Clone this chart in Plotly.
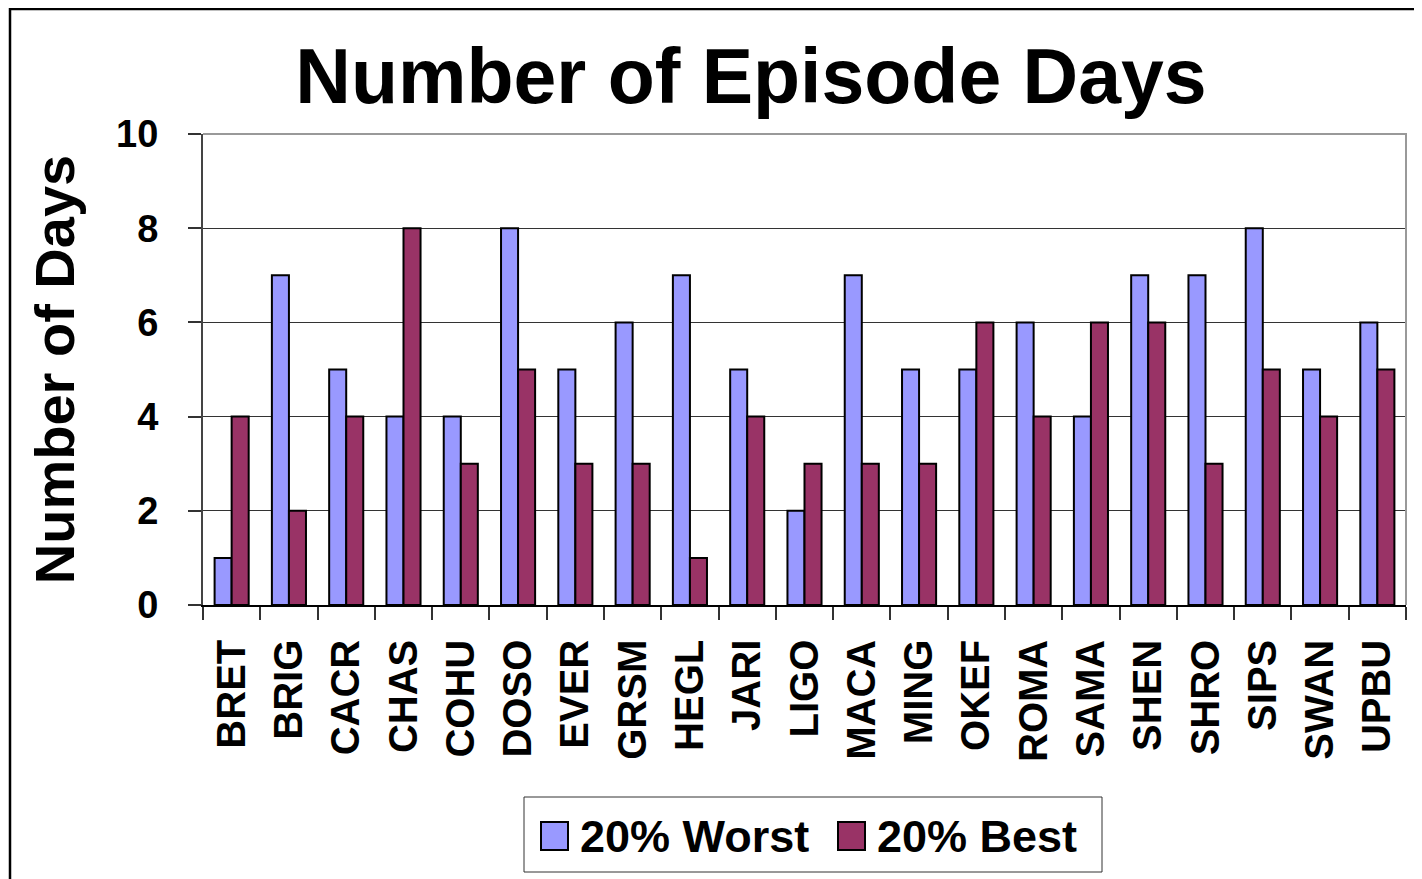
import plotly.graph_objects as go

sites = ["BRET", "BRIG", "CACR", "CHAS", "COHU", "DOSO", "EVER", "GRSM", "HEGL", "JARI",
         "LIGO", "MACA", "MING", "OKEF", "ROMA", "SAMA", "SHEN", "SHRO", "SIPS", "SWAN", "UPBU"]
worst = [1, 7, 5, 4, 4, 8, 5, 6, 7, 5, 2, 7, 5, 5, 6, 4, 7, 7, 8, 5, 6]
best = [4, 2, 4, 8, 3, 5, 3, 3, 1, 4, 3, 3, 3, 6, 4, 6, 6, 3, 5, 4, 5]
y_ticks = [0, 2, 4, 6, 8, 10]

C_WORST = "#9999FF"
C_BEST = "#993366"
FONT = "Liberation Sans, Arial, sans-serif"

OFF = 8  # page body margin
W, H = 1422 - OFF, 879 - OFF
# plot area in screen pixels
SX0, SX1, SY0, SY1 = 203, 1406, 134, 605
L, R, T, B = SX0 - OFF, W - (SX1 - OFF), SY0 - OFF, H - (SY1 - OFF)
PW, PH = W - L - R, H - T - B


def px_x(p):  # screen px -> paper x
    return (p - OFF - L) / PW


def px_y(p):  # screen px -> paper y
    return (H - B - (p - OFF)) / PH


fig = go.Figure()
fig.add_trace(go.Bar(x=sites, y=worst, name="20% Worst", marker_color=C_WORST,
                     marker_line=dict(color="black", width=2), showlegend=False))
fig.add_trace(go.Bar(x=sites, y=best, name="20% Best", marker_color=C_BEST,
                     marker_line=dict(color="black", width=2), showlegend=False))
# legend entries (text); swatches drawn as larger squares below
fig.add_trace(go.Scatter(x=[None], y=[None], mode="markers", name="20% Worst",
                         marker=dict(symbol="square", size=16, color="rgba(0,0,0,0)",
                                     line=dict(width=0))))
fig.add_trace(go.Scatter(x=[None], y=[None], mode="markers", name="20% Best",
                         marker=dict(symbol="square", size=16, color="rgba(0,0,0,0)",
                                     line=dict(width=0))))

fig.update_layout(
    width=W, height=H,
    margin=dict(l=L, r=R, t=T, b=B, autoexpand=False),
    paper_bgcolor="white", plot_bgcolor="white",
    barmode="group", bargap=0.405, bargroupgap=0,
    font=dict(family=FONT, color="black"),
    title=dict(text="Number of Episode Days", x=(751 - OFF) / W, xanchor="center",
               y=1 - (76 - OFF) / H, yanchor="middle", xref="container", yref="container",
               font=dict(size=77, family=FONT, weight="bold", color="black")),
    legend=dict(orientation="h", x=px_x(540), xanchor="left", y=px_y(835), yanchor="middle",
                font=dict(size=45, family=FONT, weight="bold", color="black"),
                borderwidth=0, bgcolor="rgba(0,0,0,0)",
                entrywidth=252, entrywidthmode="pixels", traceorder="normal"),
    showlegend=True,
)

fig.update_xaxes(
    type="category", showgrid=False, showline=True, linecolor="black", linewidth=1.5,
    ticks="outside", tickson="boundaries", ticklen=13, tickcolor="#333333", tickwidth=1.5,
    tickangle=-90, ticklabelstandoff=17,
    tickfont=dict(size=40, family=FONT, weight="bold", color="black"),
    automargin=False,
)
fig.update_yaxes(
    range=[0, 10], tickvals=y_ticks, showgrid=True, gridcolor="#333333", gridwidth=1,
    showline=True, linecolor="#444444", linewidth=2, zeroline=False,
    ticks="outside", ticklen=13, tickcolor="#333333", tickwidth=1.5, ticklabelstandoff=22,
    tickfont=dict(size=38, family=FONT, weight="bold", color="black"),
    title=dict(text="Number of Days", standoff=24,
               font=dict(size=56, family=FONT, weight="bold", color="black")),
    automargin=False,
)

# plot area top/right border (gray)
fig.add_shape(type="path", xref="paper", yref="paper", path="M 0,1 L 1,1 L 1,0",
              line=dict(color="#999999", width=2), layer="above")
# outer chart frame
fig.add_shape(type="rect", xref="paper", yref="paper",
              x0=px_x(10), y0=px_y(900), x1=px_x(1440), y1=px_y(9),
              line=dict(color="black", width=2.5), layer="above")
# legend box and swatches
fig.add_shape(type="rect", xref="paper", yref="paper",
              x0=px_x(524), y0=px_y(872), x1=px_x(1102), y1=px_y(797),
              line=dict(color="#333333", width=1), fillcolor="rgba(0,0,0,0)", layer="above")
for x0, col in [(541, C_WORST), (838, C_BEST)]:
    fig.add_shape(type="rect", xref="paper", yref="paper",
                  x0=px_x(x0), y0=px_y(850), x1=px_x(x0 + 27), y1=px_y(822),
                  line=dict(color="black", width=2), fillcolor=col, layer="above")

fig.write_html("out.html")
